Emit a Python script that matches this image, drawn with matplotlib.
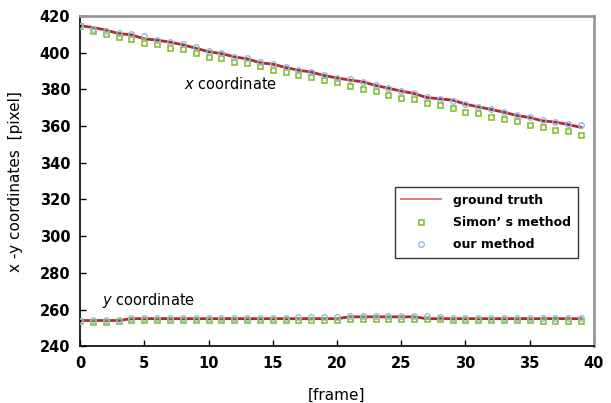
import numpy as np
import matplotlib
matplotlib.use('Agg')
from matplotlib import pyplot as plt

frames = np.arange(40)

# x coordinate
gt_x = [414.8, 413.8, 412.4, 410.5, 409.8, 407.6, 406.9, 405.8, 404.4, 402.5,
        400.6, 399.6, 397.8, 396.7, 394.6, 393.8, 392.0, 390.5, 389.5, 387.6,
        386.3, 385.1, 384.2, 382.2, 380.7, 379.1, 377.8, 375.6, 374.9, 374.2,
        372.0, 370.5, 369.1, 367.6, 365.8, 364.7, 362.9, 362.2, 360.9, 359.3]
simon_x = [414.4, 411.8, 410.5, 408.7, 407.6, 405.5, 404.7, 402.7, 401.8, 400.0,
           397.8, 396.9, 394.9, 394.2, 392.7, 390.5, 389.6, 387.8, 386.9, 384.9,
           383.8, 382.0, 380.0, 379.1, 376.9, 375.6, 374.9, 372.7, 371.8, 369.8,
           367.8, 366.9, 364.9, 364.0, 362.7, 360.7, 359.8, 357.8, 357.1, 355.0]
ours_x = [414.8, 412.9, 412.0, 410.8, 410.2, 409.3, 407.2, 406.0, 404.8, 403.0,
          400.8, 400.0, 397.9, 396.9, 395.0, 394.0, 392.3, 390.8, 389.6, 387.9,
          386.4, 385.5, 384.3, 382.5, 381.0, 379.3, 378.2, 376.0, 375.0, 373.6,
          372.2, 370.6, 369.4, 367.8, 366.1, 364.9, 363.2, 362.4, 361.1, 360.6]

# y coordinate
gt_y = [254, 254, 254, 254, 255, 255, 255, 255, 255, 255,
        255, 255, 255, 255, 255, 255, 255, 255, 255, 255,
        255, 256, 256, 256, 256, 256, 256, 255, 255, 255,
        255, 255, 255, 255, 255, 255, 255, 255, 255, 255]
simon_y = [253.5, 253, 253, 254, 254.5, 254.5, 254.5, 254.5, 254.5, 254.5,
           254.5, 254.5, 254.5, 254.5, 254.5, 254.5, 254.5, 254.5, 254.5, 254.5,
           254.5, 254.8, 254.8, 254.8, 254.8, 254.8, 254.8, 254.8, 254.8, 254.5,
           254.5, 254.5, 254.5, 254.5, 254.5, 254.5, 253.5, 253.5, 253.5, 253.5]
ours_y = [254, 254.5, 254.5, 254.5, 255.5, 255.5, 255.5, 255.5, 255.5, 255.5,
          255.5, 255.5, 255.5, 255.5, 255.5, 255.5, 255.5, 256, 256, 256,
          256, 256.3, 256.3, 256.3, 256.3, 256.3, 256.3, 256.3, 256, 255.3,
          255.3, 255.3, 255.3, 255.3, 255.3, 255.3, 255.3, 255.3, 255.3, 255.3]

red = '#b22a2a'
green = '#7cbf1a'
blue = '#92b8e6'

fig = plt.figure(figsize=(6.11, 4.03), dpi=100)
ax = fig.add_axes([0.131, 0.141, 0.841, 0.819])

ax.plot(frames, gt_x, color=red, lw=2, zorder=2, label='ground truth')
ax.plot(frames, gt_y, color=red, lw=2, zorder=2)
ax.plot(frames, simon_x, ls='none', marker='s', ms=3.6, mfc='none', mec=green,
        mew=1.1, zorder=3, label='Simon\u2019 s method')
ax.plot(frames, simon_y, ls='none', marker='s', ms=3.6, mfc='none', mec=green,
        mew=1.1, zorder=3)
ax.plot(frames, ours_x, ls='none', marker='o', ms=4, mfc='none', mec=blue,
        mew=1.0, zorder=4, label='our method')
ax.plot(frames, ours_y, ls='none', marker='o', ms=4, mfc='none', mec=blue,
        mew=1.0, zorder=4)

ax.set_xlim(0, 40)
ax.set_ylim(240, 420)
ax.set_xticks(range(0, 41, 5))
ax.set_yticks(range(240, 421, 20))
ax.tick_params(direction='in', length=4, width=1, labelsize=10.5, pad=7)
for lbl in ax.get_xticklabels() + ax.get_yticklabels():
    lbl.set_fontweight('bold')

ax.spines['left'].set_color('black')
ax.spines['bottom'].set_color('black')
ax.spines['left'].set_linewidth(1.2)
ax.spines['bottom'].set_linewidth(1.2)
ax.spines['top'].set_color('#999999')
ax.spines['right'].set_color('#999999')
ax.spines['top'].set_linewidth(2)
ax.spines['right'].set_linewidth(2)

ax.set_xlabel('[frame]', fontsize=11, labelpad=12)
ax.set_ylabel('x -y coordinates  [pixel]', fontsize=11, labelpad=12)

ax.text(8.1, 383, r'$\it{x}$ coordinate', fontsize=10.5, va='center')
ax.text(1.7, 265, r'$\it{y}$ coordinate', fontsize=10.5, va='center')

leg = ax.legend(loc='upper left', bbox_to_anchor=(0.6, 0.5), frameon=True,
                fancybox=False, edgecolor='black', prop={'weight': 'bold', 'size': 9},
                handlelength=3.2, handletextpad=1.0, borderpad=0.5, labelspacing=0.75)
leg.get_frame().set_linewidth(1.0)
leg.get_lines()[0].set_color('#d97070')
leg.get_lines()[0].set_linewidth(1.3)

plt.savefig('out.png', dpi=100)
